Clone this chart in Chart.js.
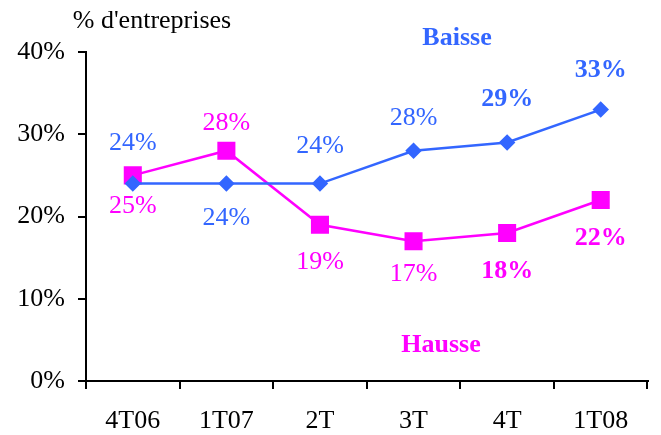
<!DOCTYPE html>
<html>
<head>
<meta charset="utf-8">
<script src="https://cdn.jsdelivr.net/npm/chart.js@4/dist/chart.umd.min.js"></script>
<style>
  html, body { margin: 0; padding: 0; background: #fff; }
  #wrap { width: 661px; height: 435px; }
</style>
</head>
<body>
<div id="wrap"><canvas id="graphique" width="661" height="435"></canvas></div>
<script>
// Données
let trimestres = ['4T06', '1T07', '2T', '3T', '4T', '1T08'];
let baisse = [24, 24, 24, 28, 29, 33];
let hausse = [25, 28, 19, 17, 18, 22];
let graduations = [0, 10, 20, 30, 40];

// Style des étiquettes (décalage vertical en px, gras)
let baisseDecalage = [-40, 35, -37, -33, -43, -39];
let hausseDecalage = [31, -28, 37, 33, 38, 38];
let enGras = [false, false, false, false, true, true];

const BLEU = '#3366ff';
const ROSE = '#ff00ff';
const POLICE = '"Liberation Serif", "Times New Roman", serif';

const etiquettes = {
    id: 'etiquettes',
    afterDatasetsDraw(chart) {
        let ctx = chart.ctx;
        ctx.save();
        ctx.textAlign = 'center';
        ctx.textBaseline = 'middle';
        chart.data.datasets.forEach(function(ds, k) {
            let meta = chart.getDatasetMeta(k);
            let dec = k === 0 ? baisseDecalage : hausseDecalage;
            meta.data.forEach(function(pt, i) {
                ctx.font = (enGras[i] ? 'bold ' : '') + '26px ' + POLICE;
                ctx.fillStyle = ds.borderColor;
                ctx.fillText(ds.data[i] + '%', pt.x, pt.y + dec[i]);
            });
        });
        // titres
        ctx.fillStyle = '#000';
        ctx.font = '26px ' + POLICE;
        ctx.fillText("% d'entreprises", 152, 21);
        ctx.font = 'bold 26px ' + POLICE;
        ctx.fillStyle = BLEU;
        ctx.fillText('Baisse', 457, 38);
        ctx.fillStyle = ROSE;
        ctx.fillText('Hausse', 441, 345);
        ctx.restore();
    }
};

let ctx = document.getElementById('graphique').getContext('2d');
new Chart(ctx, {
    type: 'line',
    data: {
        labels: trimestres,
        datasets: [{
            label: 'Baisse',
            data: baisse,
            borderColor: BLEU,
            backgroundColor: BLEU,
            borderWidth: 2.5,
            pointStyle: 'rectRot',
            pointRadius: 6.5,
            pointHoverRadius: 6.5,
            tension: 0,
            clip: false
        }, {
            label: 'Hausse',
            data: hausse,
            borderColor: ROSE,
            backgroundColor: ROSE,
            borderWidth: 2.5,
            pointStyle: 'rect',
            pointRadius: 11,
            pointHoverRadius: 11,
            tension: 0,
            clip: false
        }]
    },
    options: {
        responsive: false,
        animation: false,
        layout: { padding: { top: 52, right: 12, left: 0, bottom: 0 } },
        plugins: {
            legend: { display: false },
            tooltip: { enabled: false }
        },
        scales: {
            x: {
                offset: true,
                grid: { display: true, offset: true, drawOnChartArea: false, drawTicks: true, tickLength: 8, color: '#000', lineWidth: 2 },
                border: { display: true, color: '#000', width: 2 },
                ticks: { color: '#000', font: { family: POLICE, size: 26 }, padding: 17, maxRotation: 0 },
                afterFit: function(scale) { scale.height = 54; }
            },
            y: {
                min: 0,
                max: 40,
                afterBuildTicks: function(scale) {
                    scale.ticks = graduations.map(function(v) { return { value: v }; });
                },
                grid: { display: true, drawOnChartArea: false, drawTicks: true, tickLength: 8, color: '#000', lineWidth: 2 },
                border: { display: true, color: '#000', width: 2 },
                ticks: {
                    color: '#000',
                    font: { family: POLICE, size: 26 },
                    padding: 13,
                    callback: function(v) { return v + '%'; }
                },
                afterFit: function(scale) { scale.width = 86; }
            }
        }
    },
    plugins: [etiquettes]
});
</script>
</body>
</html>
